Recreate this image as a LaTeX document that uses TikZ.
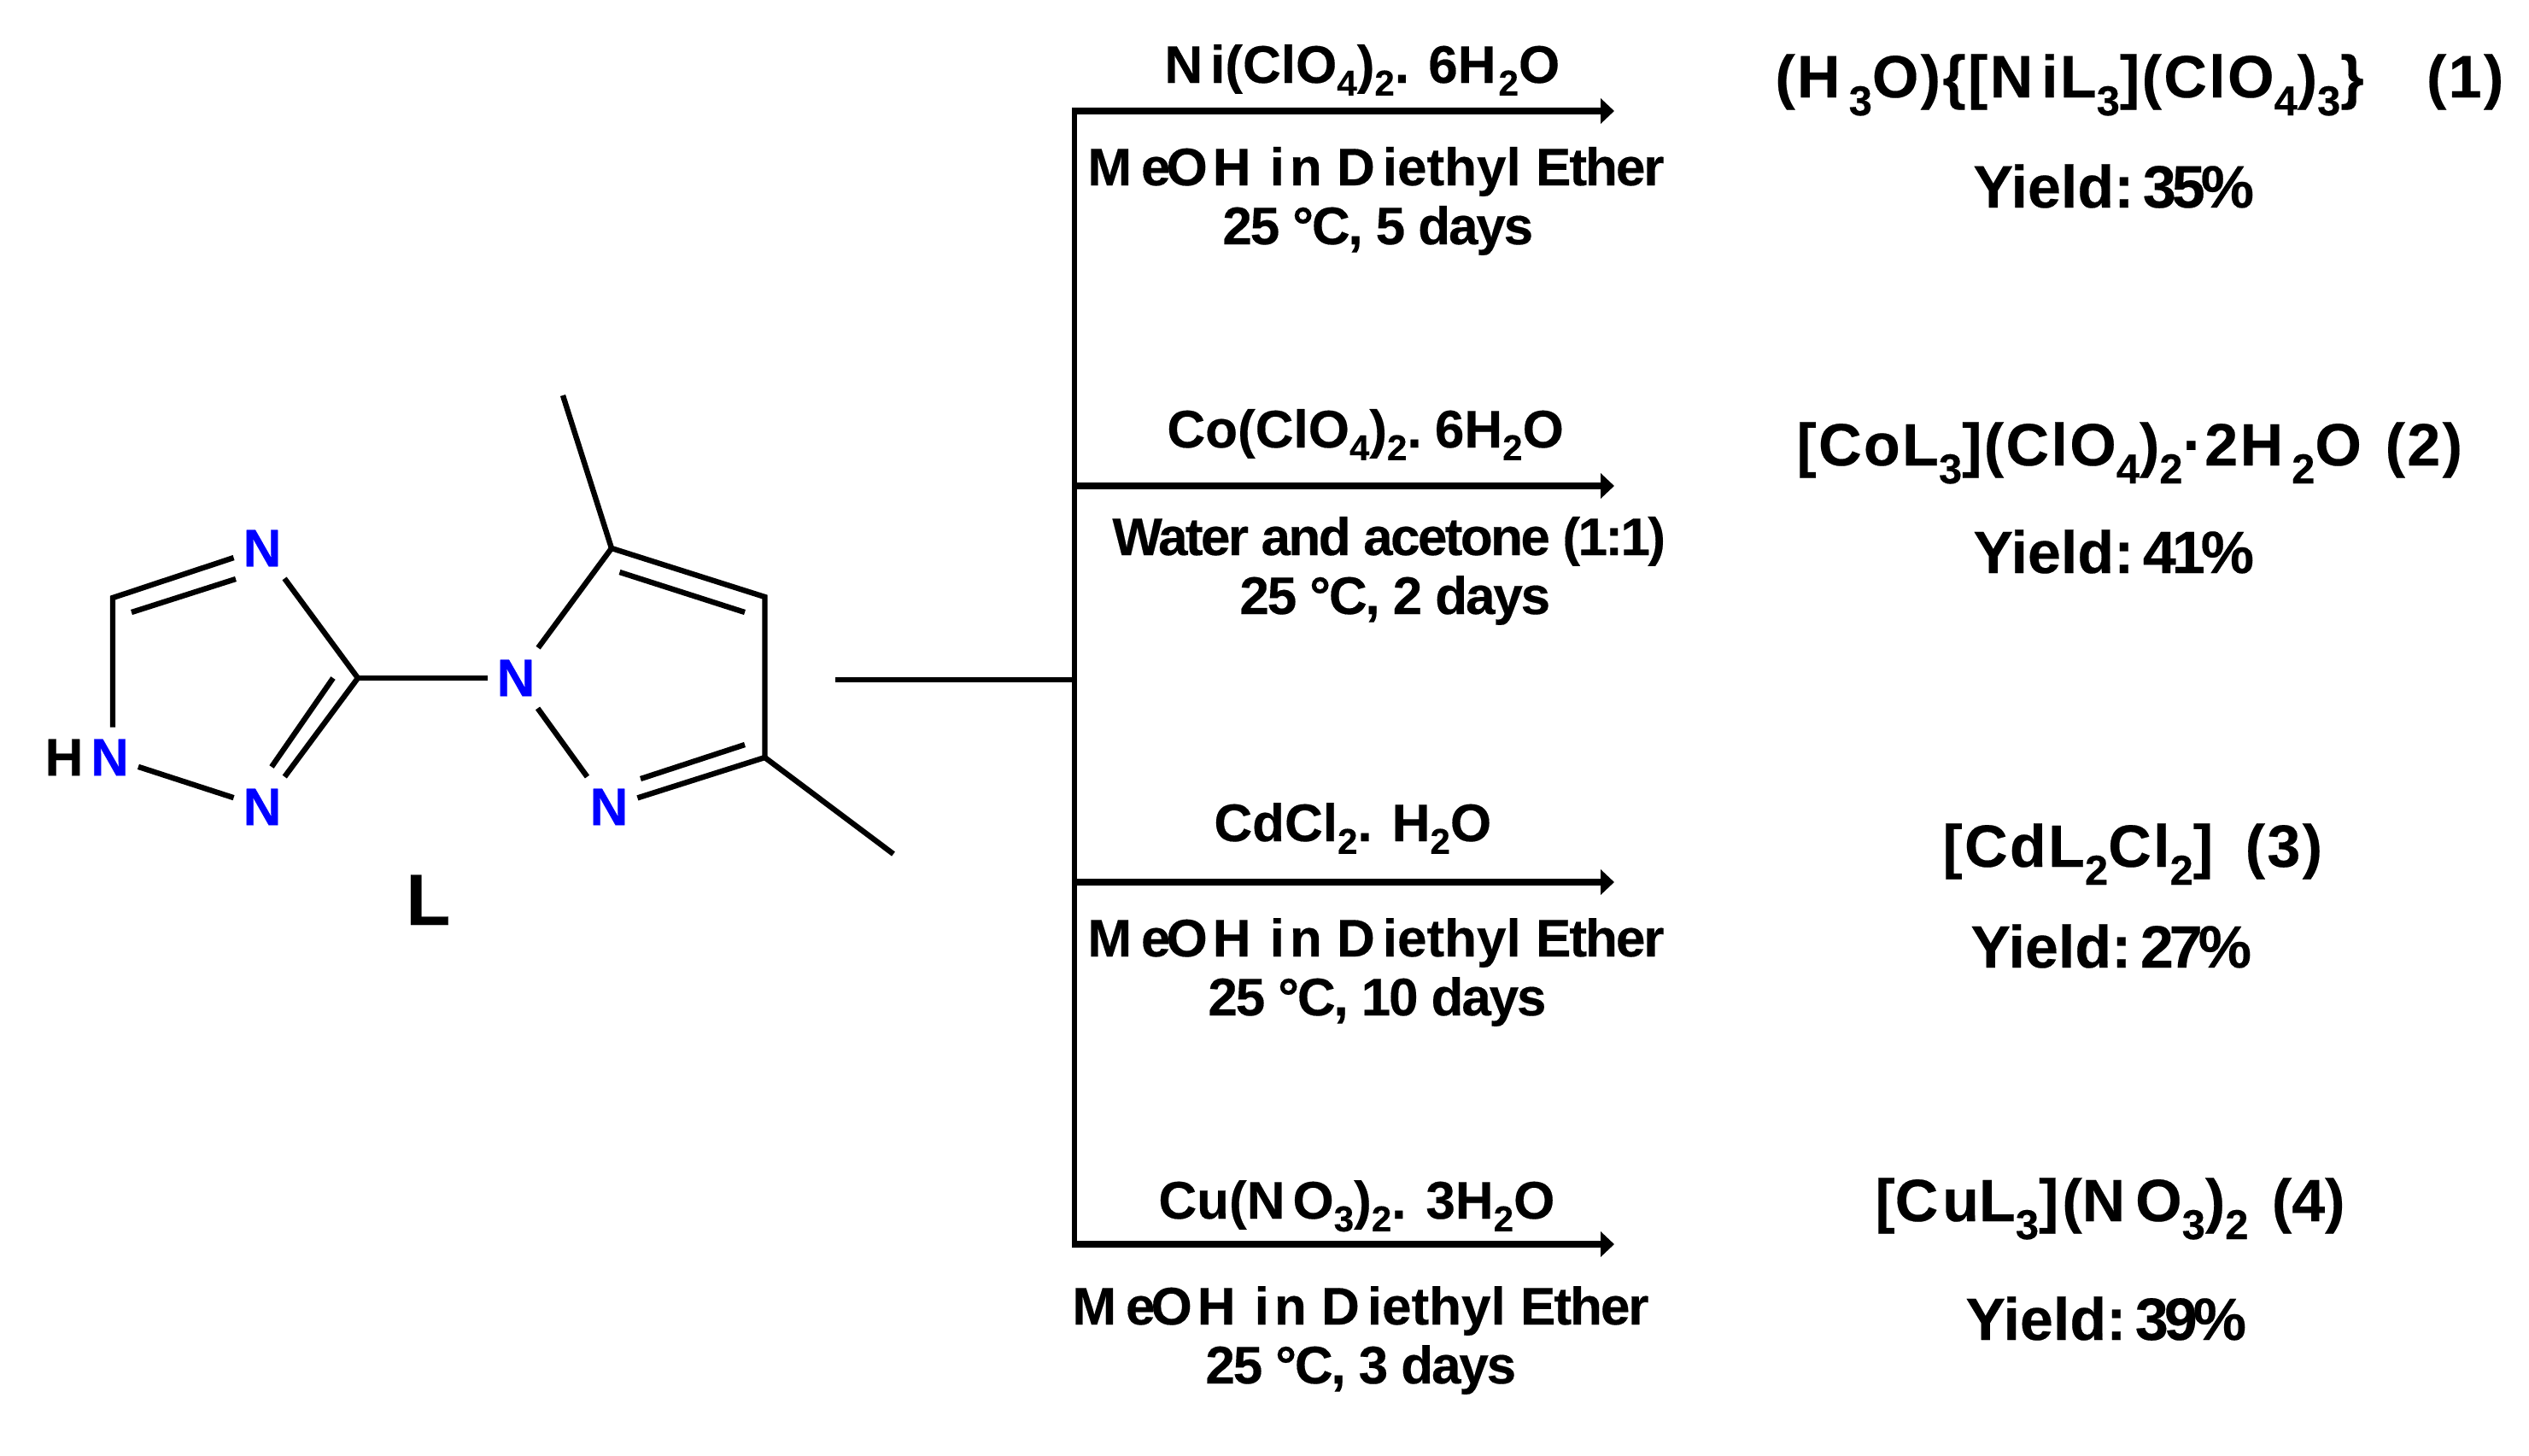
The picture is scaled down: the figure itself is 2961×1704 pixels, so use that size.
\documentclass[tikz,border=0pt]{standalone}
\usepackage{fontspec}
\setmainfont{Liberation Sans}
\newfontfamily\fnat{Liberation Sans Bold}[FakeBold=0.3]
\newfontfamily\ftemp{Liberation Sans Bold}[FakeBold=0.3,LetterSpace=-3.5]
\newfontfamily\fwater{Liberation Sans Bold}[FakeBold=0.3,LetterSpace=-4.2]
\newfontfamily\fwide{Liberation Sans Bold}[FakeBold=0.3,LetterSpace=3.4]
\usetikzlibrary{arrows.meta}
\newcommand{\dn}[1]{\raisebox{-0.24em}{\scalebox{0.68}{#1}}}
\newcommand{\dq}[1]{\raisebox{-0.3em}{\scalebox{0.7}{#1}}}
\newcommand{\kn}{\kern0.14em}
\newcommand{\yl}[2]{Yield:\kern-4.5pt\ #1\kern-2.5pt #2\kern-2.5pt\%}
\newcommand{\meoh}{M\kern5.5pt e\kern-2.5pt O\kern3pt H\kern2.5pt\ i\kern3pt n\ D\kern4.5pt iethyl\ E\kern-1pt t\kern-1pt h\kern-1pt e\kern-1pt r}
\newcommand{\temp}[1]{25 °C, #1 days}
\tikzset{
  bond/.style={line width=3.2pt,line join=miter,black},
  bar/.style={line width=3.2pt,black},
  rxn/.style={line width=3.8pt,black,-{Triangle[length=8pt,width=14.5pt]}},
  atom/.style={rectangle,inner sep=0pt,minimum width=33pt,minimum height=35pt,font=\fnat\fontsize{31}{37}\selectfont,text=blue},
  hatom/.style={atom,text=black,minimum width=0pt},
  reag/.style={anchor=base west,inner sep=0pt,font=\fnat\fontsize{31}{37}\selectfont},
  cond/.style={reag,font=\ftemp\fontsize{31}{37}\selectfont},
  watr/.style={reag,font=\fwater\fontsize{31}{37}\selectfont},
  prod/.style={anchor=base west,inner sep=0pt,font=\fnat\fontsize{35}{42}\selectfont},
  prodw/.style={prod,font=\fwide\fontsize{35}{42}\selectfont},
  yld/.style={anchor=base west,inner sep=0pt,font=\fnat\fontsize{35}{42}\selectfont},
  ligand/.style={anchor=base west,inner sep=0pt,font=\fnat\fontsize{42.5}{50}\selectfont},
}
\begin{document}
\begin{tikzpicture}[x=0.5pt,y=-0.5pt]
\useasboundingbox (0,0) rectangle (2961,1704);
% atoms
\node[atom] (NT) at (307,642) {N};
\node[atom] (NH) at (128.5,887) {N};
\node[hatom] (HH) at (75,887) {H};
\node[atom] (NB) at (307,945) {N};
\node[atom] (NA) at (604,794) {N};
\node[atom] (NC) at (713,945) {N};
\coordinate (CH) at (132,700);
\coordinate (CA) at (419,794);
\coordinate (C5) at (716,642);
\coordinate (C4) at (895.5,699);
\coordinate (C3) at (895.5,887);
\coordinate (M1) at (659,463);
\coordinate (M2) at (1046,1000);
\coordinate (I1a) at (276,678);
\coordinate (I1b) at (154,717);
\coordinate (I2a) at (390,794);
\coordinate (I2b) at (318,898);
\coordinate (I3a) at (725.5,670);
\coordinate (I3b) at (872,717);
\coordinate (I4a) at (872,872);
\coordinate (I4b) at (750,912);
\draw[bond] (NT) -- (CH) -- (CH|-NH.north);
\draw[bond] (NH) -- (NB);
\draw[bond] (NB) -- (CA) -- (NT);
\draw[bond] (CA) -- (NA);
\draw[bond] (NA) -- (C5) -- (C4) -- (C3) -- (NC);
\draw[bond] (NC) -- (NA);
\draw[bond] (C5) -- (M1);
\draw[bond] (C3) -- (M2);
\draw[bond] (I1a) -- (I1b);
\draw[bond] (I2a) -- (I2b);
\draw[bond] (I3a) -- (I3b);
\draw[bond] (I4a) -- (I4b);
\node[ligand] (LL) at (475,1083) {L};
% connectors
\coordinate (S) at (978,796);
\coordinate (J) at (1258,796);
\coordinate (T1) at (1258,130);
\coordinate (T2) at (1258,569);
\coordinate (T3) at (1258,1033);
\coordinate (T4) at (1258,1457);
\coordinate (E1) at (1890,130);
\coordinate (E2) at (1890,569);
\coordinate (E3) at (1890,1033);
\coordinate (E4) at (1890,1457);
\draw[bar] (S) -- (J);
\draw[bar] ([yshift=1.9pt]T1) -- ([yshift=-1.9pt]T4);
\draw[rxn] (T1) -- (E1);
\draw[rxn] (T2) -- (E2);
\draw[rxn] (T3) -- (E3);
\draw[rxn] (T4) -- (E4);
% reagents
\node[reag] (r1) at (1363,97) {N\kern4.5pt i(ClO\dn{4})\dn{2}.\kern2.5pt\ 6H\kern1.5pt\dn{2}O};
\node[reag] (c1a) at (1273,217) {\meoh};
\node[cond] (c1b) at (1431,286) {\temp{5}};
\node[prodw] (p1) at (2078,114) {(H\kern5pt\dq{3}O)\{[N\kn iL\dq{3}](ClO\dq{4})\dq{3}\}\ \ \ \kern4pt (1)};
\node[yld] (y1) at (2310,243) {\yl{3}{5}};
\node[reag] (r2) at (1366,524) {Co(ClO\dn{4})\dn{2}.\kern-1pt\ 6H\dn{2}O};
\node[watr] (c2a) at (1302,650) {Water and acetone (1:1)};
\node[cond] (c2b) at (1451,719) {\temp{2}};
\node[prodw] (p2) at (2103,545) {[CoL\dq{3}](ClO\dq{4})\dq{2}·2H\kern5pt\dq{2}O\kern3pt\ (2)};
\node[yld] (y2) at (2310,671) {\yl{4}{1}};
\node[reag] (r3) at (1421,985) {CdCl\dn{2}. H\dn{2}O};
\node[reag] (c3a) at (1273,1120) {\meoh};
\node[cond] (c3b) at (1414,1189) {\temp{10}};
\node[prodw] (p3) at (2274,1015) {[CdL\dq{2}Cl\dq{2}]\kern-3pt\ \ (3)};
\node[yld] (y3) at (2307,1133) {\yl{2}{7}};
\node[reag] (r4) at (1356,1427) {Cu(N\kern4.5pt O\dn{3})\dn{2}. 3H\dn{2}O};
\node[reag] (c4a) at (1255,1551) {\meoh};
\node[cond] (c4b) at (1411,1620) {\temp{3}};
\node[prod] (p4) at (2195,1430) {[C\kern2.5pt uL\dq{3}]\kern2pt (N\kern6pt O\dq{3})\dq{2}\kern4pt\ (4)};
\node[yld] (y4) at (2301,1569) {\yl{3}{9}};
\end{tikzpicture}
\end{document}
